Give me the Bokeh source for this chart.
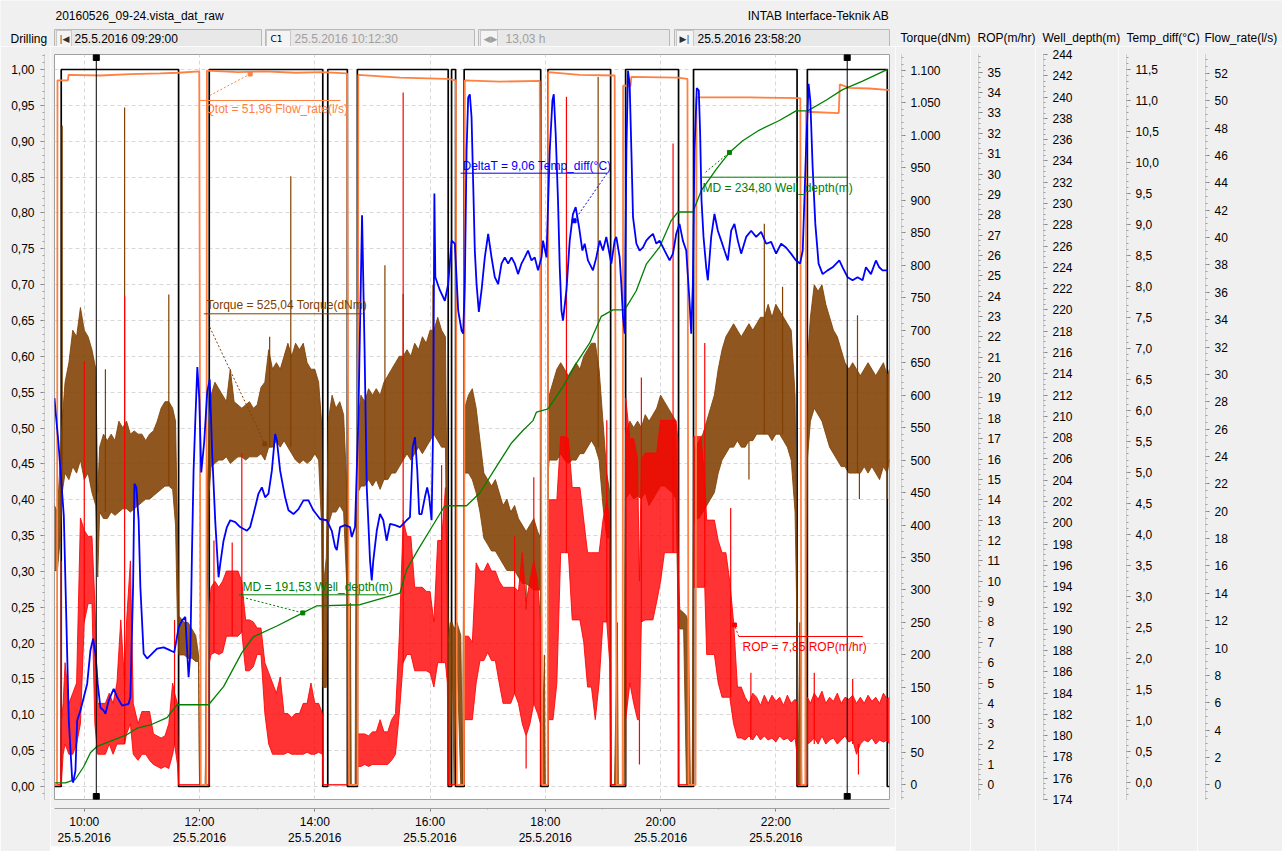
from bokeh.plotting import figure
from bokeh.models import (Range1d, LinearAxis, FixedTicker, SingleIntervalTicker,
                          CustomJSTickFormatter, Grid)
from bokeh.layouts import row, column
from bokeh.embed import file_html
from bokeh.resources import INLINE
from bokeh.core.properties import value

# ---------------------------------------------------------------- data
FILE_NAME = "20160526_09-24.vista_dat_raw"
COMPANY = "INTAB Interface-Teknik AB"
T_START_LABEL = "25.5.2016 09:29:00"
C1_LABEL = "25.5.2016 10:12:30"
SPAN_LABEL = "13,03 h"
T_END_LABEL = "25.5.2016 23:58:20"

# time = minutes after midnight, 25.5.2016
t_start = 569.0          # 09:29:00
t_end = 1438.33          # 23:58:20
cursor_1 = 612.5         # 10:12:30
cursor_2 = 1394.3        # + 13,03 h

time_ticks = [600, 720, 840, 960, 1080, 1200, 1320]
time_labels = ["10:00\n25.5.2016", "12:00\n25.5.2016", "14:00\n25.5.2016",
               "16:00\n25.5.2016", "18:00\n25.5.2016", "20:00\n25.5.2016",
               "22:00\n25.5.2016"]
time_minor = [600, 660, 720, 780, 840, 900, 960, 1020, 1080, 1140, 1200,
              1260, 1320, 1380]

drilling = [(569, 0), (576, 1), (698.2, 0), (730.1, 1), (848.3, 0), (853.5, 1),
            (873.9, 0), (884.3, 1), (978.9, 0), (982.4, 1), (986.6, 0), (995.5, 1),
            (1075.2, 0), (1082.8, 1), (1148, 0), (1163.6, 1), (1218.7, 0),
            (1234.3, 1), (1342.1, 0), (1352.8, 1), (1436, 0), (1438.33, 0)]

flow_rate = [(569, 0), (571.6, 0), (572.1, 51.5), (583, 51.5), (583.6, 51.9),
             (616.8, 51.85), (648, 51.95), (679.2, 52.0), (697.9, 52.05),
             (719.7, 52.15), (721.3, 0), (727, 0), (727.7, 52.2), (760, 52.1),
             (787.3, 52.15), (820, 52.05), (847.6, 52.1), (873.6, 52.0),
             (875.7, 0), (884.5, 0), (885.3, 51.9), (928.7, 51.7), (977.5, 51.6),
             (986.9, 51.5), (987.9, 0), (995.2, 0), (996.2, 51.5), (1032.6, 51.4),
             (1074.2, 51.45), (1076.8, 0), (1082.5, 0), (1083, 52.1),
             (1115.8, 51.9), (1152.2, 51.85), (1154.3, 0), (1160.5, 0),
             (1161, 51.1), (1168.8, 51.1), (1169.5, 51.75), (1217.6, 51.7),
             (1228, 51.6), (1229.1, 0), (1236.4, 0), (1237.4, 50.25),
             (1292.5, 50.25), (1345.5, 50.2), (1346.6, 0), (1350.7, 0),
             (1351.5, 49.2), (1385.5, 49.1), (1386.6, 51.2), (1396.5, 50.95),
             (1417.2, 50.9), (1435.9, 50.8), (1438.3, 50.8)]

well_depth = [(569, 175.57), (580.4, 175.57), (590.8, 175.9), (599.5, 177.1),
              (606.4, 178.4), (613.4, 179.0), (630.6, 179.6), (644.6, 180.1),
              (655, 180.7), (668.8, 181.0), (686.2, 181.7), (696.5, 182.9),
              (729.4, 182.9), (745, 184.6), (764.1, 187.8), (776.2, 189.3),
              (800.5, 190.3), (827.5, 191.53), (842.1, 192.2), (887.1, 192.3),
              (928.7, 193.4), (935.6, 195.6), (947.7, 197.5), (959.8, 199.3),
              (975.4, 201.6), (998, 201.6), (1011.8, 202.8), (1029.2, 205.3),
              (1044.8, 207.5), (1056.9, 208.7), (1067.2, 209.6), (1070.8, 210.4),
              (1082.8, 210.7), (1098.4, 212.8), (1112.4, 215.0), (1126.2, 216.9),
              (1138.3, 219.4), (1150.4, 220.0), (1162.6, 220.0), (1174.7, 221.8),
              (1185.1, 224.3), (1198.9, 225.9), (1211.1, 228.4), (1218, 229.2),
              (1233.6, 229.2), (1242.3, 231.2), (1257.9, 233.2), (1271.7, 234.8),
              (1285.5, 235.9), (1302.9, 236.9), (1323.7, 237.8), (1341, 238.7),
              (1353.1, 238.7), (1372.2, 239.7), (1389.5, 240.7), (1410.3, 241.5),
              (1436.3, 242.6)]

temp_diff = [(569, 6.2), (570, 6.0), (573, 5.5), (578.7, 4.3), (583.9, 1.0),
             (587.4, 0.05), (588.4, 0.0), (590.8, 0.19), (592.6, 1.0), (596, 1.16),
             (603, 1.59), (606.4, 2.13), (609.2, 2.32), (611.6, 2.08), (614, 1.59),
             (616.8, 1.21), (620.2, 1.16), (622, 1.11), (625.4, 1.32), (630.6, 1.51),
             (634.2, 1.38), (639.4, 1.24), (646.2, 1.27), (648, 1.38), (650.8, 3.15),
             (652.2, 4.82), (654.2, 4.76), (656.6, 4.23), (658.4, 3.15), (661.8, 2.08),
             (665.4, 2.0), (668.8, 2.05), (675.8, 2.16), (682.6, 2.18), (689.6, 2.13),
             (693.7, 2.10), (698.2, 2.50), (701.7, 2.61), (705.2, 2.67), (706.9, 2.18),
             (708.6, 1.70), (710.4, 2.08), (712.1, 3.69), (713.8, 5.03), (715.6, 5.84),
             (717.7, 6.7), (719.7, 6.2), (721.8, 5.0), (724.9, 5.5), (728, 6.3),
             (730.6, 6.5), (733.2, 5.3), (736.4, 4.2), (739.8, 3.31), (741.6, 3.53),
             (745, 3.90), (748.5, 4.12), (752, 4.23), (757.2, 4.2), (762.3, 4.12),
             (769.3, 4.06), (772.7, 4.12), (776.2, 4.33), (781.4, 4.66), (784.9, 4.76),
             (788.3, 4.60), (791.8, 4.66), (795.3, 5.03), (798.7, 5.62), (800.5, 5.52),
             (803.9, 5.03), (809.1, 4.60), (812.6, 4.39), (817.8, 4.33), (823, 4.41),
             (828.2, 4.55), (833.4, 4.55), (838.5, 4.39), (845.5, 4.25), (852.5, 4.23),
             (857.7, 4.06), (861.1, 3.80), (862.9, 3.75), (866.3, 4.12), (871.5, 4.15),
             (876.7, 4.12), (878.5, 3.96), (881.9, 4.12), (885.3, 5.84), (889.2, 9.15),
             (891.8, 7.0), (894.1, 4.76), (897.5, 3.58), (899.3, 3.26), (900.9, 3.58),
             (904.5, 4.06), (907.9, 4.33), (911.3, 4.23), (914.8, 3.90), (918.3, 4.17),
             (923.5, 4.15), (928.7, 4.12), (932.1, 4.17), (935.6, 4.23), (939.1, 4.28),
             (941.9, 5.41), (944.3, 5.57), (946.7, 5.03), (948.7, 4.33), (951.2, 4.33),
             (954.6, 4.60), (957, 4.76), (959.1, 4.60), (961.6, 4.23), (963.3, 5.84),
             (964.5, 9.5), (965.5, 8.15), (970.2, 7.94), (975.4, 7.77), (978.9, 8.04),
             (982.4, 8.74), (985.8, 8.69), (989.3, 7.61), (992.8, 7.29), (994.5, 7.24),
             (996.2, 8.04), (998, 10.19), (999.7, 11.05), (1001.4, 11.1),
             (1003.2, 10.73), (1004.9, 9.66), (1006.6, 8.58), (1008.4, 8.04),
             (1010.8, 7.59), (1013.6, 7.94), (1017, 8.47), (1020.5, 8.85), (1024, 8.47),
             (1027.4, 8.15), (1030.9, 8.04), (1034.4, 8.37), (1037.8, 8.47),
             (1041.3, 8.37), (1044.8, 8.47), (1048.2, 8.37), (1051.6, 8.2),
             (1055.2, 8.37), (1058.6, 8.47), (1062, 8.58), (1065.6, 8.42), (1069, 8.47),
             (1072.4, 8.26), (1076, 8.47), (1077.6, 8.74), (1081.2, 8.47),
             (1084.6, 10.19), (1087.4, 11.0), (1088.8, 11.1), (1090.8, 10.46),
             (1093.2, 9.39), (1095, 8.31), (1096.8, 7.61), (1098.4, 7.45), (1102, 7.94),
             (1105.4, 8.74), (1108.8, 9.17), (1111.6, 9.28), (1115.1, 8.96),
             (1118.6, 8.58), (1121, 8.69), (1124.4, 8.42), (1129.6, 8.26),
             (1133.1, 8.47), (1136.6, 8.74), (1140, 8.58), (1143.5, 8.8), (1148.7, 8.37),
             (1152.2, 8.74), (1153.9, 8.8), (1157.4, 8.47), (1159.1, 8.04),
             (1160.9, 7.5), (1162.7, 7.24), (1164.4, 10.19), (1166.1, 11.48),
             (1167.8, 11.27), (1169.6, 10.19), (1171.3, 9.12), (1174.8, 8.69),
             (1178.2, 8.58), (1181.7, 8.63), (1185.1, 8.74), (1188.6, 8.8),
             (1192.1, 8.85), (1195.6, 8.69), (1199, 8.74), (1204.2, 8.58),
             (1209.4, 8.42), (1212.9, 8.53), (1216.3, 8.85), (1219.7, 9.01),
             (1223.2, 8.74), (1226.7, 8.58), (1230.1, 7.77), (1231.9, 7.24),
             (1233.6, 8.04), (1235.3, 10.19), (1237.7, 11.2), (1239.8, 11.16),
             (1241.2, 10.46), (1242.6, 9.39), (1244.7, 8.8), (1247.5, 8.31),
             (1249.2, 8.1), (1252.7, 8.8), (1256.1, 9.17), (1259.6, 8.9),
             (1263.1, 8.74), (1266.5, 8.58), (1270, 8.42), (1273.5, 8.9),
             (1276.9, 9.01), (1280.4, 8.74), (1283.9, 8.53), (1289.1, 8.8),
             (1294.3, 8.9), (1299.5, 8.8), (1304.7, 8.88), (1309.9, 8.69),
             (1315.1, 8.72), (1320.3, 8.53), (1325.5, 8.69), (1330.6, 8.63),
             (1335.8, 8.53), (1341, 8.42), (1345.2, 8.37), (1348, 8.58),
             (1351.4, 10.19), (1354.1, 11.27), (1355.9, 11.0), (1358.3, 9.93),
             (1361.1, 9.01), (1364.5, 8.37), (1368.7, 8.2), (1373.9, 8.26),
             (1379.1, 8.31), (1386.1, 8.42), (1389.5, 8.31), (1394.7, 8.15),
             (1399.9, 8.1), (1405.1, 8.15), (1410.3, 8.1), (1413.8, 8.31), (1419, 8.2),
             (1424.2, 8.42), (1427.6, 8.31), (1431.1, 8.26), (1436.3, 8.26)]

# noisy channels: (time, low, high) of the band the signal fills, read every ~4 min
torque_band = [
    (569, 330, 430), (572, 330, 420), (575, 380, 500), (577, 450, 560), (580, 480, 620),
    (584, 470, 650), (588, 490, 700), (592, 480, 690), (596, 500, 735), (600, 470, 700),
    (604, 480, 690), (608, 450, 670), (612, 430, 640), (614, 320, 450), (616, 420, 520),
    (620, 410, 540), (624, 410, 530), (628, 420, 540), (632, 415, 530), (636, 420, 560),
    (640, 425, 550), (644, 425, 560), (648, 420, 540), (652, 425, 545), (656, 430, 540),
    (660, 435, 540), (664, 440, 530), (668, 440, 540), (672, 445, 545), (676, 450, 560),
    (680, 455, 580), (684, 460, 590), (688, 460, 590), (692, 455, 580), (695, 400, 560),
    (697, 250, 400), (698.5, 200, 260), (704, 200, 250), (708, 195, 250), (712, 195, 240),
    (716, 190, 230), (719, 190, 200), (720, 0, 0), (726, 0, 0), (728, 300, 450),
    (730, 450, 560), (732, 490, 600), (736, 495, 620), (740, 500, 610), (744, 500, 600),
    (748, 505, 590), (752, 495, 640), (756, 500, 590), (760, 505, 585), (764, 505, 580),
    (768, 500, 585), (772, 505, 590), (776, 505, 580), (780, 505, 585), (784, 510, 612),
    (788, 500, 620), (792, 520, 670), (796, 520, 640), (800, 530, 650), (804, 520, 640),
    (808, 530, 660), (812, 520, 680), (816, 510, 660), (820, 500, 680), (824, 495, 670),
    (828, 500, 680), (832, 495, 650), (836, 500, 640), (840, 510, 640), (844, 500, 620),
    (847, 400, 560), (848.5, 150, 300), (852, 150, 350), (854, 400, 560), (858, 420, 600),
    (862, 420, 580), (866, 430, 590), (870, 420, 570), (873.5, 300, 450), (874.5, 0, 0),
    (877, 0, 280), (878, 0, 0), (882, 0, 0), (883, 0, 400), (885, 450, 560),
    (888, 460, 600), (892, 460, 590), (896, 470, 610), (900, 460, 600), (904, 470, 610),
    (908, 455, 600), (912, 470, 620), (916, 470, 630), (920, 480, 640), (924, 480, 650),
    (928, 490, 660), (932, 500, 660), (936, 510, 670), (940, 500, 660), (944, 510, 680),
    (948, 520, 670), (952, 510, 690), (956, 520, 680), (960, 530, 700), (964, 540, 700),
    (968, 530, 720), (972, 520, 700), (976, 520, 690), (978, 250, 400), (979, 0, 220),
    (981, 0, 250), (983, 200, 250), (985, 0, 240), (988, 200, 250), (992, 0, 230),
    (994, 0, 0), (995.5, 450, 560), (996, 480, 580), (1000, 480, 600), (1004, 470, 610),
    (1008, 450, 580), (1012, 420, 530), (1016, 380, 480), (1020, 370, 470), (1024, 360, 460),
    (1028, 360, 470), (1032, 350, 450), (1036, 340, 430), (1040, 330, 440), (1044, 330, 420),
    (1048, 330, 430), (1052, 320, 410), (1056, 310, 400), (1060, 310, 390), (1064, 305, 400),
    (1068, 300, 410), (1072, 300, 390), (1075, 300, 380), (1076, 0, 0), (1079, 0, 200),
    (1080, 0, 0), (1082.5, 0, 0), (1083, 480, 560), (1084, 500, 600), (1088, 500, 620),
    (1092, 500, 640), (1096, 510, 650), (1100, 500, 640), (1104, 495, 630), (1108, 500, 640),
    (1112, 500, 650), (1116, 510, 640), (1120, 510, 660), (1124, 520, 670), (1128, 530, 680),
    (1132, 520, 680), (1136, 500, 640), (1140, 430, 560), (1144, 380, 480), (1147, 380, 450),
    (1148.5, 0, 0), (1152, 0, 0), (1155, 0, 250), (1156, 0, 0), (1162, 0, 0),
    (1163.5, 440, 540), (1168, 450, 560), (1172, 440, 550), (1176, 445, 560), (1180, 440, 550),
    (1184, 450, 570), (1188, 430, 560), (1192, 440, 570), (1196, 450, 580), (1200, 460, 600),
    (1204, 460, 590), (1208, 455, 580), (1212, 450, 570), (1216, 440, 560), (1218.5, 250, 330),
    (1220, 240, 270), (1224, 240, 265), (1227, 0, 260), (1229, 0, 250), (1231, 0, 0),
    (1233, 0, 0), (1234.3, 400, 520), (1236, 410, 520), (1240, 410, 530), (1244, 420, 540),
    (1248, 430, 560), (1252, 440, 580), (1256, 450, 600), (1260, 480, 640), (1264, 500, 670),
    (1268, 510, 690), (1272, 520, 700), (1276, 520, 710), (1280, 530, 700), (1284, 520, 690),
    (1288, 520, 700), (1292, 530, 710), (1296, 530, 700), (1300, 540, 710), (1304, 540, 720),
    (1308, 540, 720), (1312, 540, 740), (1316, 530, 720), (1320, 540, 740), (1324, 540, 730),
    (1328, 530, 720), (1332, 520, 710), (1336, 500, 700), (1340, 420, 600), (1342, 250, 350),
    (1343, 0, 0), (1345, 0, 250), (1347, 0, 0), (1351, 0, 0), (1352.8, 500, 650),
    (1356, 560, 720), (1360, 580, 770), (1364, 570, 760), (1368, 560, 770), (1372, 540, 740),
    (1376, 520, 720), (1380, 510, 700), (1384, 500, 690), (1388, 490, 670), (1392, 490, 650),
    (1396, 480, 640), (1400, 480, 650), (1404, 480, 640), (1408, 480, 630), (1412, 490, 640),
    (1416, 480, 650), (1420, 490, 640), (1424, 480, 630), (1428, 470, 640), (1432, 490, 650),
    (1436, 480, 630), (1438.3, 500, 640)]

# isolated torque spikes: (time, from, to)
torque_spikes = [(577, 450, 1015), (622, 420, 640), (642, 430, 1043), (688, 460, 755),
                 (793, 520, 690), (815, 520, 937), (913, 470, 800), (932, 500, 756),
                 (963, 540, 770), (1135, 520, 1090), (1308, 540, 864), (1327, 540, 767),
                 (1405, 480, 723), (1407, 480, 440), (1292, 530, 470), (1060, 310, 270),
                 (1436, 480, 440)]

rop_band = [
    (569, 0, 0), (575.5, 0, 0), (576, 0, 3), (578, 1.5, 4), (580, 2, 6), (584, 1.5, 4),
    (588, 1.5, 4.5), (592, 2, 5), (596, 3, 13.1), (600, 8, 12.5), (604, 8.9, 12.2),
    (608, 8.9, 12.2), (611, 3, 9), (614, 1.5, 4), (618, 1.5, 4), (622, 1.5, 4),
    (626, 2, 4.5), (630, 1.5, 4), (634, 2, 5), (638, 2, 8.1), (642, 2, 5), (644, 2.5, 8),
    (648, 3, 11), (651, 1.5, 4), (656, 1.2, 3), (660, 1.5, 3.6), (664, 1.5, 3.6),
    (668, 1.2, 3.6), (672, 1.0, 2.5), (676, 0.9, 2.4), (680, 0.8, 2.3), (684, 0.9, 2.4),
    (688, 0.8, 3), (692, 1.5, 5), (694, 2, 4.5), (697, 1, 4), (698.2, 0, 0), (730, 0, 0),
    (730.2, 6, 8.7), (732, 6.4, 9.7), (736, 6.5, 10), (740, 6.4, 9.7), (744, 6.5, 10),
    (748, 7.3, 10.5), (752, 7.3, 10.5), (756, 7.3, 10.5), (760, 7.3, 10.5), (764, 7.5, 10),
    (766, 6.5, 9), (768, 5.6, 8.1), (772, 5.6, 8.1), (776, 5.8, 8), (780, 6.4, 7.7),
    (784, 6.4, 7.7), (788, 3.5, 6), (792, 2, 5.5), (796, 1.5, 5), (800, 1.5, 4.5),
    (804, 1.5, 5.3), (808, 1.5, 3.5), (812, 1.6, 3.5), (816, 1.5, 3.3), (820, 1.5, 3.5),
    (824, 1.5, 3.5), (828, 1.5, 4), (832, 1.6, 4), (836, 1.5, 5), (840, 1.5, 4),
    (844, 1.6, 4), (848, 1.5, 3.5), (848.4, 0, 0), (884.2, 0, 0), (884.4, 0.9, 2.5),
    (888, 0.9, 2.5), (892, 1.0, 2.5), (896, 0.9, 2.4), (900, 1.0, 2.6), (904, 1.0, 2.6),
    (908, 1.0, 3.2), (912, 1.0, 2.6), (916, 1.0, 2.6), (920, 1.2, 3.2), (924, 1.5, 3.5),
    (928, 3.5, 7.3), (932, 6, 13), (936, 6.4, 12.2), (940, 6.4, 12.2), (944, 5.6, 9.7),
    (948, 5.6, 9.7), (952, 5.6, 9.7), (956, 5.6, 9.5), (960, 5.5, 9.5), (964, 4.8, 8),
    (968, 6, 12), (972, 6, 12), (976, 6, 14.6), (978, 5, 10), (979, 0, 0), (995.4, 0, 0),
    (995.6, 3.2, 7.3), (1000, 3.2, 7.3), (1004, 3.2, 7), (1008, 5, 10.9), (1012, 6.1, 10.5),
    (1016, 6.1, 10.5), (1020, 6.5, 10.9), (1024, 6.1, 10.5), (1028, 6.1, 10.5),
    (1032, 5, 10), (1036, 4, 9.7), (1040, 4, 9.7), (1044, 4, 9.7), (1048, 4.5, 9.7),
    (1052, 4, 9.5), (1056, 3, 11.4), (1060, 2.4, 9), (1064, 3, 10), (1068, 4, 11),
    (1072, 3.5, 10), (1075, 3, 8), (1075.3, 0, 0), (1082.7, 0, 0), (1083, 3.2, 14),
    (1088, 3.2, 14), (1092, 5, 14), (1096, 11.4, 17.1), (1100, 11.4, 17.1), (1104, 11.4, 17),
    (1108, 8.1, 14.6), (1112, 8.1, 14.6), (1116, 8.1, 14.6), (1120, 7, 13), (1124, 4.8, 11.4),
    (1128, 4.8, 11.4), (1132, 3.2, 11.4), (1136, 5, 11.4), (1140, 8, 13), (1144, 8, 14),
    (1147, 6, 13), (1148.2, 0, 0), (1163.5, 0, 0), (1163.7, 3.2, 19), (1168, 5, 17),
    (1172, 4, 17), (1176, 3.2, 16), (1178, 3.2, 10), (1180, 8, 16), (1184, 8.1, 16.3),
    (1188, 8.1, 16.3), (1192, 8.1, 16.3), (1196, 9, 16.3), (1200, 10, 17.9),
    (1204, 11.4, 17.9), (1208, 11.4, 17.9), (1212, 11.4, 17.9), (1216, 11.4, 17.9),
    (1218, 11.4, 17), (1218.8, 0, 0), (1234.2, 0, 0), (1234.4, 9.7, 17.1), (1238, 9.7, 17.1),
    (1242, 9.7, 17.1), (1246, 9.7, 15), (1248, 6.4, 13), (1252, 6.4, 13), (1256, 6.4, 13),
    (1260, 5, 12), (1264, 4.3, 11.4), (1268, 4.3, 11.4), (1272, 4.3, 10), (1276, 3, 8),
    (1280, 2.3, 4.8), (1284, 2.3, 4.8), (1288, 2.2, 4.3), (1292, 2.4, 4.0), (1296, 2.2, 4.5),
    (1300, 2.5, 4.3), (1304, 2.2, 3.9), (1308, 2.4, 4.4), (1312, 2.2, 4.0), (1316, 2.3, 4.4),
    (1320, 2.1, 4.1), (1324, 2.4, 4.3), (1328, 2.2, 3.9), (1332, 2.3, 4.4), (1336, 2.1, 4.0),
    (1340, 2.3, 4.2), (1342, 1.5, 4), (1342.2, 0, 0), (1352.7, 0, 0), (1352.9, 2.0, 4.3),
    (1356, 2.1, 4.0), (1360, 2.3, 4.5), (1364, 2.0, 4.2), (1368, 2.4, 4.6), (1372, 2.0, 4.0),
    (1376, 2.2, 4.3), (1380, 2.3, 4.1), (1384, 2.0, 4.5), (1388, 2.2, 4.0), (1392, 2.4, 4.3),
    (1396, 2.1, 4.2), (1400, 2.2, 4.4), (1404, 1.5, 4.0), (1408, 2.0, 4.3), (1412, 2.2, 4.0),
    (1416, 2.1, 4.4), (1420, 2.3, 4.1), (1424, 2.0, 4.3), (1428, 2.2, 4.0), (1432, 2.1, 4.5),
    (1436, 2.2, 4.2), (1438.3, 2.0, 4.3)]

rop_spikes = [(576, 0, 11), (600, 8, 20.8), (642, 2, 24), (694, 2, 8.1), (735, 6.5, 12),
              (754, 7.3, 11.9), (764, 7.5, 16.3), (932, 6, 34), (972, 6, 15.7),
              (1048, 4.5, 12.2), (1068, 4, 15.1), (1102, 11.4, 33.8), (1144, 8, 17.9),
              (1180, 8, 20), (1213, 11.4, 31.5), (1246, 9.7, 21.7), (1273, 4.3, 13.6),
              (1294, 2.2, 5.5), (1360, 2, 5.5), (1400, 2, 5.2), (1406, 2, 0.5),
              (1178, 3.2, 1.0), (1060, 2.4, 0.8)]

# cursor read-outs: (text, series, time, value)
readouts = [("Qtot = 51,96 Flow_rate(l/s)", "flow", 772.7, 51.96),
            ("Torque = 525,04 Torque(dNm)", "torque", 788.0, 525.04),
            ("DeltaT = 9,06 Temp_diff(°C)", "temp", 1110.0, 9.06),
            ("MD = 234,80 Well_depth(m)", "depth", 1271.7, 234.80),
            ("MD = 191,53 Well_depth(m)", "depth", 827.5, 191.53),
            ("ROP = 7,85 ROP(m/hr)", "rop", 1276.9, 7.85)]

# ---------------------------------------------------------------- style
FONT = "Liberation Sans"
BG = "#f0f0f0"
COLORS = {"drill": "#000000", "flow": "#ff8040", "torque": "#804000",
          "rop": "#ff0000", "depth": "#008000", "temp": "#0000ff"}

FT, FB = 54.0, 799.0   # frame top / bottom on the page


def yrange(v0, y0, px_per_unit):
    return Range1d(start=v0 - (FB - y0) / px_per_unit, end=v0 + (y0 - FT) / px_per_unit)


r_drill = yrange(0.0, 786.0, 717.0)
ranges = {"torque": yrange(0.0, 784.3, 0.64936),
          "rop": yrange(0.0, 784.3, 20.36),
          "depth": Range1d(173.999, 244.001),
          "temp": yrange(0.0, 782.0, 62.0),
          "flow": yrange(0.0, 784.3, 13.68)}
x_range = Range1d(t_start, t_end)


def to_drill(v, r):
    return r_drill.start + (v - r.start) / (r.end - r.start) * (r_drill.end - r_drill.start)


def d_of(y_px):
    # page pixel -> drilling-axis units (for annotation placement)
    return r_drill.start + (FB - y_px) / (FB - FT) * (r_drill.end - r_drill.start)


def m_of(x_px):
    # page pixel -> time (minutes) for annotation placement
    return t_start + (x_px - 54.0) / (889.0 - 54.0) * (t_end - t_start)


def base_fig(w, h, xr, yr, ml, mr, mt, mb):
    f = figure(width=w, height=h, x_range=xr, y_range=yr, output_backend="svg",
               toolbar_location=None, x_axis_location=None, y_axis_location=None,
               min_border_left=ml, min_border_right=mr, min_border_top=mt,
               min_border_bottom=mb)
    f.background_fill_color = BG
    f.border_fill_color = BG
    f.outline_line_color = None
    f.grid.visible = False
    return f


def style_axis(ax, standoff=5):
    ax.axis_line_color = "#a8a8a8"
    ax.axis_line_dash = "1 1"
    ax.major_tick_line_color = "#808080"
    ax.major_tick_out = 4
    ax.major_tick_in = 0
    ax.minor_tick_line_color = "#a0a0a0"
    ax.minor_tick_out = 2
    ax.minor_tick_in = 0
    ax.major_label_text_font = FONT
    ax.major_label_text_font_size = "12px"
    ax.major_label_text_color = "#000000"
    ax.major_label_standoff = standoff


def cols(pts):
    return [list(c) for c in zip(*pts)]


# ---------------------------------------------------------------- main plot
main = base_fig(845, 762, x_range, r_drill, 4, 6, 8, 9)
main.background_fill_color = "#ffffff"
main.outline_line_color = "#a0a0a0"
main.extra_y_ranges = ranges

main.add_layout(Grid(dimension=0, ticker=FixedTicker(ticks=time_ticks),
                     grid_line_color="#d8d8d8", grid_line_dash="4 3"))
main.add_layout(Grid(dimension=1, ticker=SingleIntervalTicker(interval=0.05),
                     grid_line_color="#d8d8d8", grid_line_dash="4 3"))

tx, ty = cols(drilling)
main.step(tx, ty, mode="after", line_color=COLORS["drill"], line_width=1.7)


def noisy(band, spikes, key, alpha):
    c = COLORS[key]
    t, lo, hi = cols(band)
    main.varea(x=t, y1=lo, y2=hi, y_range_name=key, fill_color=c, fill_alpha=alpha)
    main.line(t, hi, y_range_name=key, line_color=c, line_width=1, line_alpha=0.85)
    main.line(t, lo, y_range_name=key, line_color=c, line_width=1, line_alpha=0.85)
    st, sb, sp = cols(spikes)
    main.segment(x0=st, x1=st, y0=sb, y1=sp, y_range_name=key, line_color=c, line_width=1.2)


noisy(torque_band, torque_spikes, "torque", 0.88)
noisy(rop_band, rop_spikes, "rop", 0.8)

tx, ty = cols(flow_rate)
main.line(tx, ty, y_range_name="flow", line_color=COLORS["flow"], line_width=1.8)
tx, ty = cols(well_depth)
main.line(tx, ty, y_range_name="depth", line_color=COLORS["depth"], line_width=1.3)
tx, ty = cols(temp_diff)
main.line(tx, ty, y_range_name="temp", line_color=COLORS["temp"], line_width=1.8)

# cursors
main.segment(x0=[cursor_1, cursor_2], x1=[cursor_1, cursor_2],
             y0=[r_drill.start] * 2, y1=[r_drill.end] * 2, line_color="black", line_width=1)
main.scatter(x=[cursor_1, cursor_2, cursor_1, cursor_2],
             y=[d_of(57), d_of(57), d_of(796), d_of(796)],
             marker="square", size=6, color="black")

# read-out callouts: (line x0, line x1, line y, text x, text y, leader start x, y)
callout_layout = [(199.3, 340, 100.0, 205, 108.5, 209.3, 95.0),
                  (203.3, 362, 313.3, 206, 304.0, 209.3, 326.7),
                  (460.0, 606.7, 172.7, 462, 165.0, 606.7, 172.7),
                  (700.7, 846.7, 176.7, 702, 187.0, 705.0, 171.7),
                  (238.3, 385, 594.3, 242, 586.0, 241.7, 596.7),
                  (738.3, 862.3, 636.0, 742, 646.5, 738.3, 636.0)]
for (txt, key, t, v), (lx0, lx1, ly, txx, tyy, sx, sy) in zip(readouts, callout_layout):
    col = COLORS[key]
    main.segment(x0=[m_of(lx0)], x1=[m_of(lx1)], y0=[d_of(ly)], y1=[d_of(ly)],
                 line_color=col, line_width=1)
    main.segment(x0=[m_of(sx)], y0=[d_of(sy)], x1=[t], y1=[to_drill(v, ranges[key])],
                 line_color=col, line_width=1, line_dash="2 2")
    main.scatter(x=[t], y=[v], y_range_name=key, marker="square", size=4, color=col)
    main.text(x=[m_of(txx)], y=[d_of(tyy)], text=[txt], text_color=col,
              text_font=value(FONT), text_font_size="12px",
              text_baseline="middle", text_align="left")

# ---------------------------------------------------------------- time axis strip
bottom = base_fig(845, 38, x_range, Range1d(0, 1), 4, 6, 0, 37)
time_fmt = CustomJSTickFormatter(args=dict(tvals=time_ticks, tlabels=time_labels), code="""
    const i = tvals.findIndex(t => Math.abs(t - tick) < 1e-6);
    return i >= 0 ? tlabels[i] : '';
""")
xax = LinearAxis(ticker=FixedTicker(ticks=time_ticks, minor_ticks=time_minor),
                 formatter=time_fmt)
style_axis(xax, standoff=3)
xax.axis_line_dash = "solid"
xax.axis_line_color = "#a0a0a0"
xax.major_tick_out = 3
xax.minor_tick_out = 1
bottom.add_layout(xax, "below")

scroll = base_fig(845, 5, Range1d(0, 1), Range1d(0, 1), 4, 6, 0, 0)
scroll.background_fill_color = "#a8a8a8"

# ---------------------------------------------------------------- y axes
fmt_drill = CustomJSTickFormatter(code="return tick.toFixed(2).replace('.', ',');")
fmt_int = CustomJSTickFormatter(code="return String(Math.round(tick));")
fmt_thousands = CustomJSTickFormatter(code="""
    const v = Math.round(tick);
    if (v >= 1000) { const s = String(v); return s.slice(0, s.length - 3) + '.' + s.slice(-3); }
    return String(v);
""")
fmt_temp = CustomJSTickFormatter(code="return tick.toFixed(1).replace('.', ',');")


def axis_fig(w, left, yr, side, ticker, fmt, standoff):
    f = base_fig(w, 805, Range1d(0, 1), yr, left, w - left - 1, 8, 52)
    ax = LinearAxis(ticker=ticker, formatter=fmt)
    style_axis(ax, standoff)
    f.add_layout(ax, side)
    return f


left_ax = axis_fig(50, 44, r_drill, "left", SingleIntervalTicker(interval=0.05, num_minor_ticks=5), fmt_drill, 6)
a_torque = axis_fig(75, 5, ranges["torque"], "right", SingleIntervalTicker(interval=50, num_minor_ticks=5), fmt_thousands, 5)
a_rop = axis_fig(65, 7, ranges["rop"], "right", SingleIntervalTicker(interval=1, num_minor_ticks=4), fmt_int, 5)
a_depth = axis_fig(83, 7, ranges["depth"], "right", SingleIntervalTicker(interval=2, num_minor_ticks=4), fmt_int, 5)
a_temp = axis_fig(79, 7, ranges["temp"], "right", SingleIntervalTicker(interval=0.5, num_minor_ticks=5), fmt_temp, 5)
a_flow = axis_fig(85, 7, ranges["flow"], "right", SingleIntervalTicker(interval=2, num_minor_ticks=4), fmt_int, 5)

# ---------------------------------------------------------------- header
head = base_fig(1282, 46, Range1d(0, 1282), Range1d(46, 0), 0, 0, 0, 0)
head.quad(left=[54, 265, 478, 674], right=[261, 474, 669, 889], top=[29, 29, 29, 29],
          bottom=[47, 47, 47, 47], fill_color="#e8e8e8", line_color="#b8b8b8")
head.quad(left=[56, 266, 480, 676], right=[71, 290, 497, 693], top=[30, 30, 30, 30],
          bottom=[46, 46, 46, 46], fill_color="#f4f4f4", line_color="#c8c8c8")
head.text(x=[59, 270, 483, 679], y=[38, 38, 38, 38], text=["|◀", "C1", "◀▶", "▶|"],
          text_color=["#303030", "#000000", "#a0a0a0", "#303030"],
          text_font=value("DejaVu Sans"), text_font_size="9px", text_baseline="middle")
head.text(x=[74, 294, 505, 697], y=[38, 38, 38, 38],
          text=[T_START_LABEL, C1_LABEL, SPAN_LABEL, T_END_LABEL],
          text_color=["#000000", "#a0a0a0", "#a0a0a0", "#000000"],
          text_font=value(FONT), text_font_size="12px", text_baseline="middle")
head.text(x=[55, 10], y=[15, 38], text=[FILE_NAME, "Drilling"], text_color="#000000",
          text_font=value(FONT), text_font_size="12px", text_baseline="middle")
head.text(x=[889], y=[15], text=[COMPANY], text_color="#000000", text_align="right",
          text_font=value(FONT), text_font_size="12px", text_baseline="middle")
head.text(x=[900, 977, 1042, 1126, 1204], y=[37] * 5,
          text=["Torque(dNm)", "ROP(m/hr)", "Well_depth(m)", "Temp_diff(°C)", "Flow_rate(l/s)"],
          text_color="#000000", text_font=value(FONT), text_font_size="12px",
          text_baseline="middle")

layout = column(head,
                row(left_ax, column(main, bottom, scroll), a_torque, a_rop, a_depth, a_temp, a_flow))

open("out.html", "w").write(file_html(layout, INLINE))
